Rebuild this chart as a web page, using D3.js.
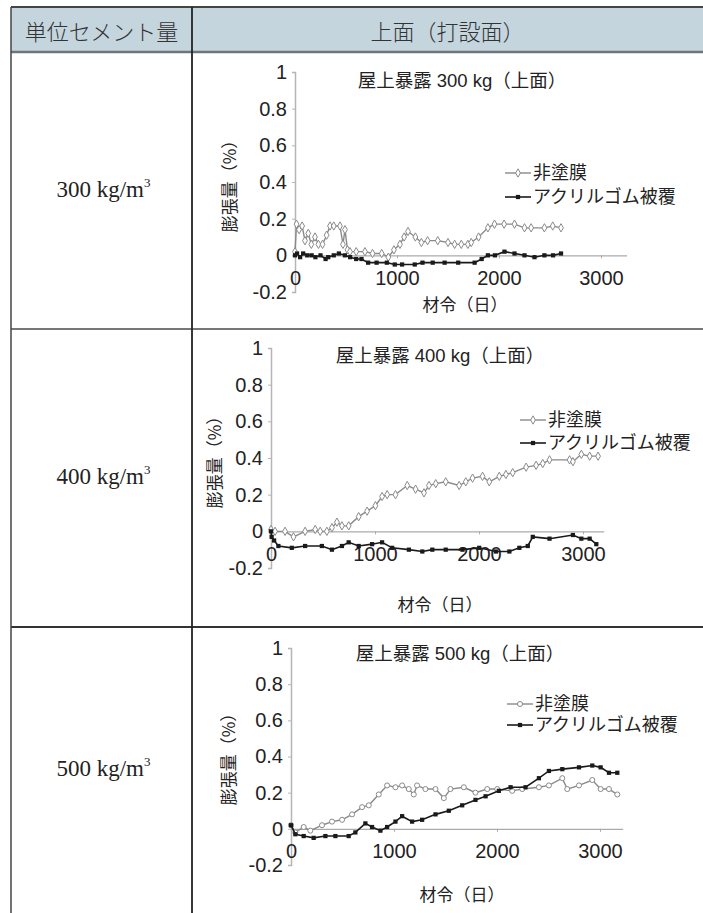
<!DOCTYPE html>
<html>
<head>
<meta charset="utf-8">
<script src="https://cdn.jsdelivr.net/npm/d3@7"></script>
<style>
  body { margin: 0; background: #fff; }
  svg { display: block; }
</style>
</head>
<body>
<div id="table"></div>
<script>
// ---- data ----
var rowLabels = ["300", "400", "500"];
var seriesNames = ["非塗膜", "アクリルゴム被覆"];
var yTickValues = [-0.2, 0, 0.2, 0.4, 0.6, 0.8, 1];
var yTickLabels = ["-0.2", "0", "0.2", "0.4", "0.6", "0.8", "1"];
var xTickValues = [0, 1000, 2000, 3000];

var days300u = [0, 15, 40, 70, 98, 130, 160, 196, 230, 270, 310, 343, 380, 441, 470, 490, 515, 539, 600, 686, 760, 850, 915, 970, 1029, 1070, 1108, 1180, 1239, 1300, 1400, 1500, 1565, 1630, 1695, 1728, 1800, 1891, 1956, 2050, 2152, 2250, 2315, 2445, 2527, 2608];
var vals300u = [0.02, 0.17, 0.14, 0.16, 0.08, 0.12, 0.06, 0.10, 0.06, 0.06, 0.11, 0.16, 0.16, 0.16, 0.06, 0.14, 0.03, 0.02, 0.02, 0.02, 0.01, 0.01, -0.01, 0.03, 0.06, 0.10, 0.13, 0.10, 0.07, 0.08, 0.08, 0.07, 0.06, 0.06, 0.06, 0.07, 0.10, 0.15, 0.17, 0.17, 0.17, 0.15, 0.15, 0.15, 0.16, 0.15];
var days300c = [0, 20, 50, 80, 120, 163, 200, 250, 300, 326, 380, 430, 489, 540, 600, 652, 717, 800, 900, 978, 1050, 1174, 1250, 1350, 1467, 1600, 1761, 1830, 1891, 1960, 2054, 2152, 2250, 2348, 2445, 2530, 2608];
var vals300c = [0.0, 0.01, -0.01, 0.01, 0.0, 0.0, -0.01, 0.0, -0.02, -0.01, 0.0, 0.01, 0.0, -0.01, -0.02, -0.02, -0.04, -0.04, -0.04, -0.05, -0.05, -0.05, -0.04, -0.04, -0.04, -0.04, -0.04, -0.02, 0.0, 0.0, 0.02, 0.01, 0.0, -0.01, 0.0, 0.0, 0.01];

var days400u = [0, 39, 135, 216, 328, 425, 473, 537, 586, 634, 682, 747, 843, 924, 1004, 1068, 1117, 1197, 1310, 1390, 1471, 1519, 1584, 1680, 1809, 1873, 1938, 2034, 2099, 2195, 2259, 2324, 2453, 2549, 2613, 2678, 2871, 2903, 2984, 3064, 3145];
var vals400u = [0.01, 0.0, 0.0, -0.03, 0.0, 0.01, 0.0, 0.0, 0.02, 0.05, 0.03, 0.03, 0.08, 0.11, 0.14, 0.19, 0.20, 0.20, 0.25, 0.23, 0.21, 0.25, 0.26, 0.27, 0.25, 0.27, 0.29, 0.30, 0.27, 0.30, 0.31, 0.32, 0.35, 0.36, 0.37, 0.39, 0.39, 0.38, 0.42, 0.41, 0.41];
var days400c = [0, 6, 30, 71, 200, 328, 489, 586, 682, 747, 843, 972, 1068, 1165, 1326, 1455, 1551, 1680, 1841, 2002, 2163, 2292, 2388, 2469, 2517, 2678, 2903, 2984, 3064, 3128];
var vals400c = [0.0, -0.03, -0.05, -0.08, -0.09, -0.08, -0.08, -0.10, -0.08, -0.06, -0.08, -0.07, -0.06, -0.09, -0.10, -0.11, -0.10, -0.10, -0.10, -0.09, -0.11, -0.11, -0.09, -0.08, -0.03, -0.04, -0.02, -0.04, -0.04, -0.07];

var days500u = [0, 42, 123, 188, 301, 398, 496, 593, 690, 755, 852, 933, 1014, 1079, 1143, 1192, 1224, 1305, 1403, 1484, 1548, 1678, 1791, 1905, 2002, 2148, 2245, 2407, 2504, 2634, 2682, 2796, 2925, 3006, 3087, 3168];
var vals500u = [0.02, -0.02, 0.01, -0.01, 0.02, 0.04, 0.05, 0.08, 0.12, 0.13, 0.19, 0.24, 0.23, 0.24, 0.22, 0.19, 0.24, 0.22, 0.22, 0.17, 0.22, 0.23, 0.20, 0.22, 0.22, 0.21, 0.22, 0.23, 0.24, 0.28, 0.22, 0.24, 0.27, 0.22, 0.22, 0.19];
var days500c = [0, 42, 123, 220, 334, 431, 560, 625, 722, 787, 868, 933, 1014, 1079, 1176, 1273, 1403, 1532, 1662, 1791, 1889, 2018, 2132, 2277, 2407, 2504, 2634, 2796, 2925, 3006, 3087, 3168];
var vals500c = [0.02, -0.03, -0.04, -0.05, -0.04, -0.04, -0.04, -0.02, 0.03, 0.01, -0.01, 0.01, 0.04, 0.07, 0.04, 0.05, 0.08, 0.10, 0.13, 0.16, 0.18, 0.21, 0.23, 0.23, 0.28, 0.32, 0.33, 0.34, 0.35, 0.34, 0.31, 0.31];

// ---- layout ----
var W = 703, H = 913;
var svg = d3.select("#table").append("svg")
  .attr("width", W).attr("height", H);

var jp = "'Noto Sans CJK JP', sans-serif";
var latin = "'Liberation Sans', 'Noto Sans CJK JP', sans-serif";

var tableLeft = 11, colX = 192, topY = 7, headY = 52;
var rowLines = [329, 627];
var rowBounds = [[headY, 329], [329, 627], [627, H]];

// header
svg.append("rect")
  .attr("x", tableLeft).attr("y", topY)
  .attr("width", W - tableLeft).attr("height", headY - topY)
  .attr("fill", "#c4d5de");

svg.append("text")
  .attr("x", (tableLeft + colX) / 2).attr("y", 30)
  .attr("text-anchor", "middle").attr("dominant-baseline", "central")
  .attr("font-family", jp).attr("font-size", "22px").attr("font-weight", 300).attr("fill", "#333")
  .text("単位セメント量");
svg.append("text")
  .attr("x", (colX + W) / 2).attr("y", 30)
  .attr("text-anchor", "middle").attr("dominant-baseline", "central")
  .attr("font-family", jp).attr("font-size", "22px").attr("font-weight", 300).attr("fill", "#333")
  .text("上面（打設面）");

// grid lines
svg.append("line").attr("x1", tableLeft).attr("x2", W).attr("y1", topY).attr("y2", topY)
  .attr("stroke", "#444").attr("stroke-width", 2);
svg.append("line").attr("x1", tableLeft).attr("x2", W).attr("y1", headY).attr("y2", headY)
  .attr("stroke", "#6f7478").attr("stroke-width", 2.5);
rowLines.forEach(function(y, i) {
  svg.append("line").attr("x1", tableLeft).attr("x2", W).attr("y1", y).attr("y2", y)
    .attr("stroke", i == 0 ? "#777" : "#333").attr("stroke-width", 2);
});
svg.append("line").attr("x1", tableLeft).attr("x2", tableLeft).attr("y1", topY).attr("y2", H)
  .attr("stroke", "#444").attr("stroke-width", 1.5);
svg.append("line").attr("x1", colX).attr("x2", colX).attr("y1", topY).attr("y2", H)
  .attr("stroke", "#222").attr("stroke-width", 1.8);

// left column labels
rowLabels.forEach(function(r, i) {
  var cy = (rowBounds[i][0] + rowBounds[i][1]) / 2 - 2;
  var t = svg.append("text")
    .attr("x", (tableLeft + colX) / 2 + 2).attr("y", cy + 8)
    .attr("text-anchor", "middle")
    .attr("font-family", "'Liberation Serif', serif").attr("font-size", "23px").attr("fill", "#222");
  t.append("tspan").text(r + " kg/m");
  t.append("tspan").attr("font-size", "13px").attr("dy", -10).text("3");
});

// ---- charts ----
var panels = [
  { title: "屋上暴露 300 kg（上面）", x0: 295, y1: 72, yb: 292, pxPer: 0.102, xMax: 3250,
    titleX: 462, titleY: 80, yLabX: 228, yLabY: 182, xLabX: 465, xLabY: 303,
    legX: 533, legY: [173, 197], sym: d3.symbolDiamond,
    unc: [days300u, vals300u], coat: [days300c, vals300c] },
  { title: "屋上暴露 400 kg（上面）", x0: 271, y1: 348, yb: 568, pxPer: 0.104, xMax: 3200,
    titleX: 440, titleY: 355, yLabX: 213, yLabY: 458, xLabX: 440, xLabY: 603,
    legX: 548, legY: [420, 443], sym: d3.symbolDiamond,
    unc: [days400u, vals400u], coat: [days400c, vals400c] },
  { title: "屋上暴露 500 kg（上面）", x0: 291, y1: 648, yb: 865, pxPer: 0.103, xMax: 3220,
    titleX: 460, titleY: 653, yLabX: 227, yLabY: 755, xLabX: 462, xLabY: 893,
    legX: 535, legY: [704, 725], sym: d3.symbolCircle,
    unc: [days500u, vals500u], coat: [days500c, vals500c] }
];

var uncColor = "#8a8a8a", coatColor = "#1a1a1a";

panels.forEach(function(p) {
  var x = d3.scaleLinear().domain([0, p.xMax]).range([p.x0, p.x0 + p.xMax * p.pxPer]);
  var y = d3.scaleLinear().domain([-0.2, 1]).range([p.yb, p.y1]);
  var g = svg.append("g");

  // y axis
  var yAxis = g.append("g")
    .attr("transform", "translate(" + p.x0 + ",0)")
    .call(d3.axisLeft(y).tickValues(yTickValues).tickSize(3).tickPadding(5)
      .tickFormat(function(d, i) { return yTickLabels[i]; }));
  yAxis.select(".domain").attr("stroke", "#b5b5b5").attr("stroke-width", 1.5);
  yAxis.selectAll(".tick line").attr("stroke", "#b5b5b5");
  yAxis.selectAll("text").attr("font-family", latin).attr("font-size", "20px").attr("fill", "#222");

  // x axis on the zero line
  var xAxis = g.append("g")
    .attr("transform", "translate(0," + y(0) + ")")
    .call(d3.axisBottom(x).tickValues(xTickValues).tickSize(3).tickPadding(12)
      .tickSizeOuter(0).tickFormat(d3.format("d")));
  xAxis.select(".domain").attr("stroke", "#ababab").attr("stroke-width", 1.3);
  xAxis.selectAll(".tick line").attr("stroke", "#ababab");
  xAxis.selectAll("text").attr("font-family", latin).attr("font-size", "20px").attr("fill", "#222");

  // title
  g.append("text")
    .attr("x", p.titleX).attr("y", p.titleY)
    .attr("text-anchor", "middle").attr("dominant-baseline", "central")
    .attr("font-family", latin).attr("font-size", "18.5px").attr("fill", "#222")
    .text(p.title);

  // axis labels
  g.append("text")
    .attr("transform", "translate(" + p.yLabX + "," + p.yLabY + ") rotate(-90)")
    .attr("text-anchor", "middle").attr("dominant-baseline", "central")
    .attr("font-family", jp).attr("font-size", "17px").attr("fill", "#222")
    .text("膨張量（%）");
  g.append("text")
    .attr("x", p.xLabX).attr("y", p.xLabY)
    .attr("text-anchor", "middle").attr("dominant-baseline", "central")
    .attr("font-family", jp).attr("font-size", "17px").attr("fill", "#222")
    .text("材令（日）");

  var line = d3.line()
    .x(function(d) { return x(d[0]); })
    .y(function(d) { return y(d[1]); });

  var unc = d3.zip(p.unc[0], p.unc[1]);
  var coat = d3.zip(p.coat[0], p.coat[1]);

  // uncoated series
  g.append("path").datum(unc)
    .attr("d", line).attr("fill", "none")
    .attr("stroke", uncColor).attr("stroke-width", 1.4);
  g.selectAll(".mu").data(unc).enter().append("path")
    .attr("transform", function(d) { return "translate(" + x(d[0]) + "," + y(d[1]) + ")"; })
    .attr("d", d3.symbol().type(p.sym).size(20))
    .attr("fill", "#fff").attr("stroke", uncColor).attr("stroke-width", 1);

  // coated series
  g.append("path").datum(coat)
    .attr("d", line).attr("fill", "none")
    .attr("stroke", coatColor).attr("stroke-width", 1.6);
  g.selectAll(".mc").data(coat).enter().append("path")
    .attr("transform", function(d) { return "translate(" + x(d[0]) + "," + y(d[1]) + ")"; })
    .attr("d", d3.symbol().type(d3.symbolSquare).size(18))
    .attr("fill", coatColor);

  // legend
  seriesNames.forEach(function(name, i) {
    var ly = p.legY[i];
    var col = i == 0 ? uncColor : coatColor;
    g.append("line")
      .attr("x1", p.legX - 28).attr("x2", p.legX - 2)
      .attr("y1", ly).attr("y2", ly)
      .attr("stroke", col).attr("stroke-width", i == 0 ? 1.4 : 1.6);
    var m = g.append("path")
      .attr("transform", "translate(" + (p.legX - 15) + "," + ly + ")");
    if (i == 0) {
      m.attr("d", d3.symbol().type(p.sym).size(20)).attr("fill", "#fff")
        .attr("stroke", col).attr("stroke-width", 1);
    } else {
      m.attr("d", d3.symbol().type(d3.symbolSquare).size(18)).attr("fill", col);
    }
    g.append("text")
      .attr("x", p.legX).attr("y", ly)
      .attr("dominant-baseline", "central")
      .attr("font-family", latin).attr("font-size", "18px").attr("fill", "#222")
      .text(name);
  });
});
</script>
</body>
</html>
